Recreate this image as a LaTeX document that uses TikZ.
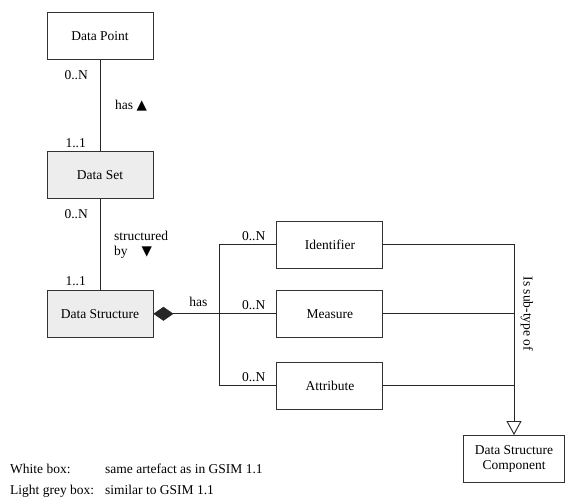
\documentclass[tikz,border=0pt]{standalone}
\usepackage{fontspec}
\setmainfont{Liberation Serif}
\newfontfamily\symfont{DejaVu Sans}
\usepackage{tikz}
\usetikzlibrary{arrows.meta, calc, positioning}
\newcommand{\uptri}{{\symfont ▲}}
\newcommand{\downtri}{{\symfont ▼}}
\tikzset{
    box/.style={rectangle, draw=black!80, line width=0.9pt, align=center,
        minimum width=106pt, minimum height=47pt, inner sep=2pt},
    whitebox/.style={box, fill=white},
    greybox/.style={box, fill=black!7},
    link/.style={line width=0.9pt, black!85},
    mult/.style={inner sep=0pt, align=left},
    aggregate/.style={link, {Diamond[length=20pt, width=14pt]}-},
    subtype/.style={link, -{Triangle[open, length=14pt, width=15pt, fill=white]}},
}

\begin{document}
\begin{tikzpicture}[x=1pt, y=-1pt, font=\fontsize{13.5}{15}\selectfont]
    \useasboundingbox (0,0) rectangle (565,498);
    % left column
    \node[whitebox] (dpoint) at (100,36) {Data Point};
    \node[greybox, below=91pt of dpoint] (dset) {Data Set};
    \node[greybox, below=91pt of dset] (dstruct) {Data Structure};
    % components
    \node[whitebox, right=123pt of dstruct] (meas) {Measure};
    \node[whitebox, above=21pt of meas] (ident) {Identifier};
    \node[whitebox, below=24pt of meas] (attr) {Attribute};
    \node[whitebox, minimum width=101pt] (dsc) at (514,459) {Data Structure\\Component};

    \draw[link] (dpoint) -- (dset);
    \draw[link] (dset) -- (dstruct);
    \node[mult, below left=10pt and 12pt of dpoint.south] (m1) {0..N};
    \node[mult, above left=3pt and 14pt of dset.north] (m2) {1..1};
    \node[mult, anchor=west] (r1) at ($(dpoint.south)!0.5!(dset.north)+(15pt,0)$) {has \uptri};
    \node[mult, below left=10pt and 12pt of dset.south] (m3) {0..N};
    \node[mult, above left=4pt and 14pt of dstruct.north] (m4) {1..1};
    \node[mult, below right=32pt and 14pt of dset.south] (r2) {structured\\by\hspace{14pt}\downtri};

    % aggregation
    \coordinate[right=66pt of dstruct.east] (bus);
    \draw[aggregate] (dstruct.east) -- (meas.west);
    \draw[link] (ident.west) -| (bus) |- (attr.west);
    \coordinate (aggmid) at ($(dstruct.east)!0.68!(bus)$);
    \node[mult, above=7pt of aggmid] (r3) {has};
    \node[mult, above left=4pt and 11pt of ident.west] (m5) {0..N};
    \node[mult, above left=4pt and 11pt of meas.west] (m6) {0..N};
    \node[mult, above left=4pt and 11pt of attr.west] (m7) {0..N};

    % generalisation
    \draw[subtype] (ident.east) -| (dsc.north);
    \draw[link] (meas.east) -- (meas.east -| dsc.north);
    \draw[link] (attr.east) -- (attr.east -| dsc.north);
    \node[mult, rotate=-90] (r4) at ($(meas.east -| dsc.north)+(13pt,0)$) {Is sub-type of};

    % legend
    \node[mult, anchor=base west] (lw) at (10,473) {White box:};
    \node[mult, anchor=base west] (lwd) at (105,473) {same artefact as in GSIM 1.1};
    \node[mult, anchor=base west] (lg) at (10,494) {Light grey box:};
    \node[mult, anchor=base west] (lgd) at (105,494) {similar to GSIM 1.1};
\end{tikzpicture}
\end{document}
